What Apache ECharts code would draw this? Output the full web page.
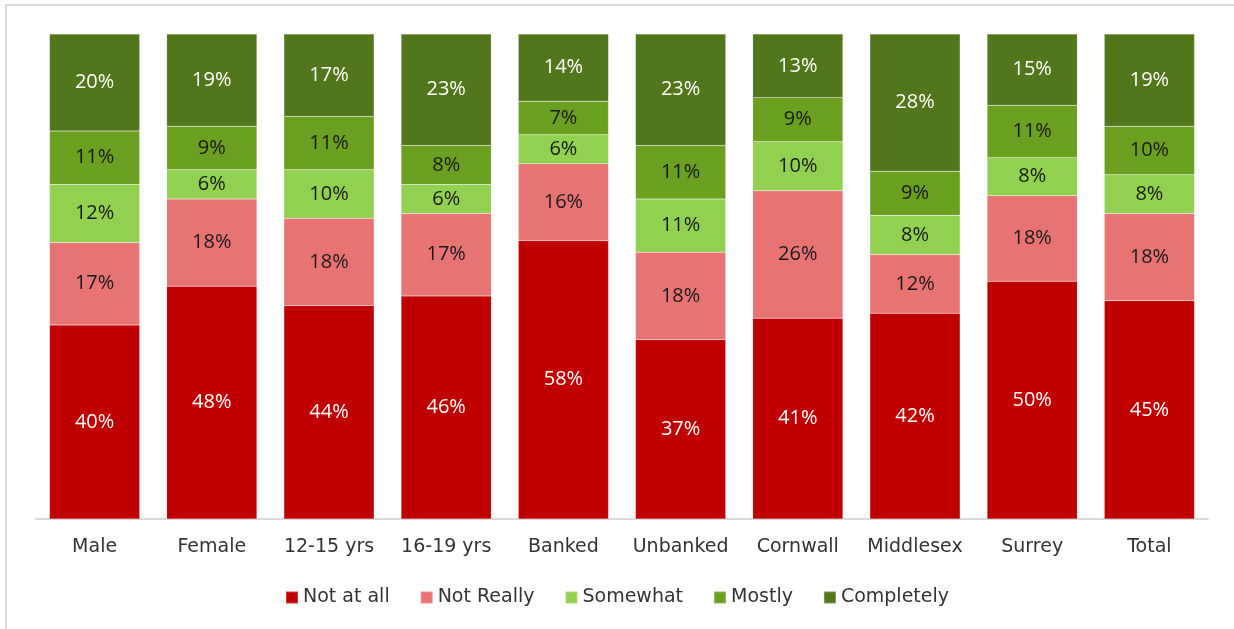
<!DOCTYPE html>
<html>
<head>
<meta charset="utf-8">
<title>Stacked survey responses</title>
<script src="https://cdn.jsdelivr.net/npm/echarts@6/dist/echarts.min.js"></script>
<style>
  html, body { margin: 0; padding: 0; background: #fff; }
  #chart { width: 1234px; height: 629px; }
</style>
</head>
<body>
<div id="chart"></div>
<script>
// Respondent groups along the x axis
const categories = ['Male', 'Female', '12-15 yrs', '16-19 yrs', 'Banked', 'Unbanked', 'Cornwall', 'Middlesex', 'Surrey', 'Total'];

// Response shares (%) per group
const notAtAll   = [40, 48, 44, 46, 58, 37, 41, 42, 50, 45];
const notReally  = [17, 18, 18, 17, 16, 18, 26, 12, 18, 18];
const somewhat   = [12,  6, 10,  6,  6, 11, 10,  8,  8,  8];
const mostly     = [11,  9, 11,  8,  7, 11,  9,  9, 11, 10];
const completely = [20, 19, 17, 23, 14, 23, 13, 28, 15, 19];

const seriesNames = ['Not at all', 'Not Really', 'Somewhat', 'Mostly', 'Completely'];
const seriesValues = [notAtAll, notReally, somewhat, mostly, completely];
const seriesColors = ['#C00000', '#E87373', '#92D050', '#6A9F20', '#51761B'];
const labelColors  = ['#ffffff', '#1a1a1a', '#1a1a1a', '#1a1a1a', '#ffffff'];

// 100% stacked: each column is scaled so its segments fill the full height
const totals = categories.map((_, i) => seriesValues.reduce((s, arr) => s + arr[i], 0));

const axisFont = "'Century Gothic', 'DejaVu Sans', sans-serif";
const valueFont = "'Open Sans', 'Noto Sans', sans-serif";

const series = seriesNames.map((name, k) => ({
  name,
  type: 'bar',
  stack: 'share',
  barCategoryGap: '23%',
  data: seriesValues[k].map((v, i) => v / totals[i] * 100),
  itemStyle: {
    color: seriesColors[k],
    borderColor: 'rgba(255,255,255,0.25)',
    borderWidth: 0.5
  },
  label: {
    show: true,
    position: 'inside',
    color: labelColors[k],
    fontFamily: valueFont,
    fontSize: 20,
    formatter: p => seriesValues[k][p.dataIndex] + '%'
  },
  emphasis: { disabled: true }
}));

const chart = echarts.init(document.getElementById('chart'), null, { renderer: 'canvas' });
chart.setOption({
  animation: false,
  backgroundColor: '#ffffff',
  // frame along the top and left edges of the chart area
  graphic: [{
    type: 'polyline',
    shape: { points: [[6, 640], [6, 5], [1240, 5]] },
    style: { fill: 'none', stroke: '#D9D9D9', lineWidth: 2 },
    silent: true
  }],
  grid: { left: 36, right: 26, top: 34, bottom: 110, containLabel: false },
  legend: {
    bottom: 17,
    left: 'center',
    itemWidth: 12,
    itemHeight: 12,
    itemGap: 30,
    icon: 'rect',
    textStyle: { fontFamily: axisFont, fontSize: 19, color: '#333333' },
    data: seriesNames
  },
  xAxis: {
    type: 'category',
    data: categories,
    axisLine: { lineStyle: { color: '#D9D9D9', width: 2 } },
    axisTick: { show: false },
    axisLabel: { interval: 0, fontFamily: axisFont, fontSize: 19, color: '#333333', margin: 19 }
  },
  yAxis: {
    type: 'value',
    min: 0,
    max: 100,
    show: false,
    splitLine: { show: false }
  },
  series
});
</script>
</body>
</html>
